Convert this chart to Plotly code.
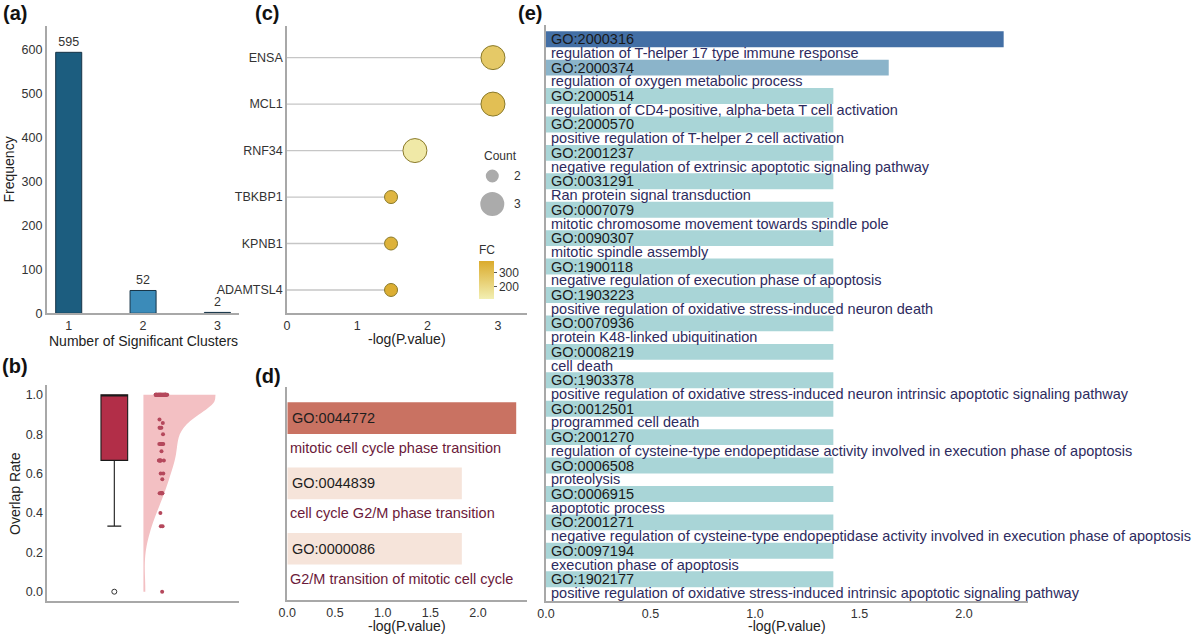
import plotly.graph_objects as go

FONT = "Liberation Sans, Arial, sans-serif"
W, H = 1200, 636

# ---------------- data ----------------
# (a)
clusters = [1, 2, 3]
frequency = [595, 52, 2]
a_colors = ["#1c5d7f", "#3b8bb9", "#23445c"]

# (b) overlap rates
overlap_values = ([1.0] * 36 + [0.875] + [0.857] + [0.833] * 3 + [0.8] + [0.75] * 6 +
                  [0.714] + [0.667] * 6 + [0.6] * 2 + [0.571] + [0.5] * 6 + [0.4] +
                  [0.333] * 2 + [0.0])

# (c) lollipop
genes = ["ADAMTSL4", "KPNB1", "TBKBP1", "RNF34", "MCL1", "ENSA"]
gene_logp = [1.48, 1.48, 1.48, 1.82, 2.93, 2.93]
gene_count = [2, 2, 2, 3, 3, 3]
gene_fc = [365, 350, 335, 140, 300, 262]

# (d)
d_ids = ["GO:0044772", "GO:0044839", "GO:0000086"]
d_terms = ["mitotic cell cycle phase transition",
           "cell cycle G2/M phase transition",
           "G2/M transition of mitotic cell cycle"]
d_logp = [2.40, 1.83, 1.83]

# (e)
e_ids = ["GO:2000316", "GO:2000374", "GO:2000514", "GO:2000570", "GO:2001237",
         "GO:0031291", "GO:0007079", "GO:0090307", "GO:1900118", "GO:1903223",
         "GO:0070936", "GO:0008219", "GO:1903378", "GO:0012501", "GO:2001270",
         "GO:0006508", "GO:0006915", "GO:2001271", "GO:0097194", "GO:1902177"]
e_terms = ["regulation of T-helper 17 type immune response",
           "regulation of oxygen metabolic process",
           "regulation of CD4-positive, alpha-beta T cell activation",
           "positive regulation of T-helper 2 cell activation",
           "negative regulation of extrinsic apoptotic signaling pathway",
           "Ran protein signal transduction",
           "mitotic chromosome movement towards spindle pole",
           "mitotic spindle assembly",
           "negative regulation of execution phase of apoptosis",
           "positive regulation of oxidative stress-induced neuron death",
           "protein K48-linked ubiquitination",
           "cell death",
           "positive regulation of oxidative stress-induced neuron intrinsic apoptotic signaling pathway",
           "programmed cell death",
           "regulation of cysteine-type endopeptidase activity involved in execution phase of apoptosis",
           "proteolysis",
           "apoptotic process",
           "negative regulation of cysteine-type endopeptidase activity involved in execution phase of apoptosis",
           "execution phase of apoptosis",
           "positive regulation of oxidative stress-induced intrinsic apoptotic signaling pathway"]
e_logp = [2.19, 1.64] + [1.375] * 18


def px_x(p):
    return p / W


def px_y(p):
    return 1 - p / H


fig = go.Figure()

# ---------------- (a) ----------------
fig.add_trace(go.Bar(
    x=clusters, y=frequency, width=0.35, xaxis="x", yaxis="y",
    marker=dict(color=a_colors, line=dict(color="#173447", width=1)),
    text=frequency, textposition="outside", cliponaxis=False,
    textfont=dict(size=12.5, color="#333", family=FONT), showlegend=False, hoverinfo="skip"))

# ---------------- (b) ----------------
fig.add_trace(go.Violin(
    y=overlap_values, x0=1.09, side="positive", width=5.4, xaxis="x2", yaxis="y2",
    points=False, spanmode="hard", bandwidth=0.1, fillcolor="#f3c0c3",
    line=dict(width=0, color="#f3c0c3"), opacity=1, showlegend=False,
    box=dict(visible=False), meanline=dict(visible=False), hoverinfo="skip"))
fig.add_trace(go.Box(
    y=overlap_values, x0=0, width=1, xaxis="x2", yaxis="y2",
    boxpoints="outliers", fillcolor="#b22e48", line=dict(color="#1a1a1a", width=1.1),
    whiskerwidth=0.52, marker=dict(symbol="circle-open", color="#333", size=5,
                                   line=dict(width=1)),
    showlegend=False, hoverinfo="skip"))
fig.add_trace(go.Box(
    y=overlap_values, x0=1.77, width=0.45, xaxis="x2", yaxis="y2",
    boxpoints="all", jitter=1, pointpos=0,
    fillcolor="rgba(0,0,0,0)", line=dict(color="rgba(0,0,0,0)", width=0),
    marker=dict(color="#b5485c", size=4), showlegend=False, hoverinfo="skip"))

# ---------------- (c) ----------------
gy = list(range(len(genes)))
stem_x, stem_y = [], []
for i, v in enumerate(gene_logp):
    stem_x += [0, v, None]
    stem_y += [gy[i], gy[i], None]
fig.add_trace(go.Scatter(x=stem_x, y=stem_y, mode="lines", xaxis="x3", yaxis="y3",
                         line=dict(color="#c6c6c6", width=1.3), showlegend=False,
                         hoverinfo="skip"))
fig.add_trace(go.Scatter(
    x=gene_logp, y=gy, mode="markers", xaxis="x3", yaxis="y3", showlegend=False,
    marker=dict(size=[11 * c - 9 for c in gene_count], color=gene_fc,
                colorscale=[[0, "#f2efb2"], [1, "#dbab2c"]], cmin=118, cmax=377,
                line=dict(color="#8a7a2a", width=1), opacity=1,
                colorbar=dict(x=px_x(479), xanchor="left", y=px_y(242), yanchor="top",
                              len=57 / H, lenmode="fraction", thickness=15,
                              xpad=0, ypad=0, outlinewidth=0,
                              tickvals=[200, 300], ticks="outside", ticklen=3,
                              tickcolor="#555",
                              tickfont=dict(size=12, color="#333", family=FONT),
                              title=dict(text="FC", side="top",
                                         font=dict(size=12, color="#333", family=FONT)))),
    hoverinfo="skip"))

# ---------------- (d) ----------------
dy = [len(d_ids) - 1 - i for i in range(len(d_ids))]
fig.add_trace(go.Bar(
    x=d_logp, y=dy, orientation="h", width=0.485, xaxis="x4", yaxis="y4",
    marker=dict(color=d_logp, colorscale=[[0, "#f6e4da"], [1, "#c97262"]],
                cmin=min(d_logp), cmax=max(d_logp), line=dict(width=0)),
    showlegend=False, hoverinfo="skip"))

# ---------------- (e) ----------------
ey = [len(e_ids) - 1 - i for i in range(len(e_ids))]
fig.add_trace(go.Bar(
    x=e_logp, y=ey, orientation="h", width=0.56, xaxis="x5", yaxis="y5",
    marker=dict(color=e_logp, colorscale=[[0, "#a9d5d7"], [0.32, "#8cb5ca"], [1, "#436fa5"]],
                cmin=min(e_logp), cmax=max(e_logp), line=dict(width=0)),
    showlegend=False, hoverinfo="skip"))

annotations = []
for i, (gid, term) in enumerate(zip(d_ids, d_terms)):
    annotations.append(dict(x=0, y=dy[i], xref="x4", yref="y4", text=gid, showarrow=False,
                            xanchor="left", yanchor="middle", xshift=3,
                            font=dict(size=14.5, color="#1e1e1e", family=FONT)))
    annotations.append(dict(x=0, y=dy[i] - 0.46, xref="x4", yref="y4", text=term,
                            showarrow=False, xanchor="left", yanchor="middle", xshift=1,
                            font=dict(size=14.5, color="#6b1a3a", family=FONT)))
for i, (gid, term) in enumerate(zip(e_ids, e_terms)):
    annotations.append(dict(x=0, y=ey[i], xref="x5", yref="y5", text=gid, showarrow=False,
                            xanchor="left", yanchor="middle", xshift=3,
                            font=dict(size=14.5, color="#1a1a1a", family=FONT)))
    annotations.append(dict(x=0, y=ey[i] - 0.486, xref="x5", yref="y5", text=term,
                            showarrow=False, xanchor="left", yanchor="middle", xshift=3,
                            font=dict(size=14.5, color="#2d2b5e", family=FONT)))

# panel labels
for lab, cx, cy in [("(a)", 15, 13), ("(b)", 15, 366), ("(c)", 267, 13),
                    ("(d)", 268, 376), ("(e)", 529.5, 13)]:
    annotations.append(dict(x=px_x(cx), y=px_y(cy), xref="paper", yref="paper", text=f"<b>{lab}</b>",
                            showarrow=False, xanchor="center", yanchor="middle",
                            font=dict(size=20, color="#111", family=FONT)))

# axis titles
for txt, cx, cy, ang in [("Frequency", 8.5, 170, -90),
                         ("Number of Significant Clusters", 143, 341, 0),
                         ("Overlap Rate", 15, 494, -90),
                         ("-log(P.value)", 407, 339, 0),
                         ("-log(P.value)", 407, 626, 0),
                         ("-log(P.value)", 787, 626, 0)]:
    annotations.append(dict(x=px_x(cx), y=px_y(cy), xref="paper", yref="paper", text=txt,
                            showarrow=False, xanchor="center", yanchor="middle", textangle=ang,
                            font=dict(size=14, color="#222", family=FONT)))

# Count legend
annotations.append(dict(x=px_x(500.7), y=px_y(156), xref="paper", yref="paper", text="Count",
                        showarrow=False, xanchor="center", yanchor="middle",
                        font=dict(size=12, color="#333", family=FONT)))
legend_counts = [2, 3]
shapes = []
for c, cy in zip(legend_counts, [176, 204]):
    r = (11 * c - 9) / 2
    shapes.append(dict(type="circle", xref="paper", yref="paper",
                       x0=px_x(492.3 - r), x1=px_x(492.3 + r), y0=px_y(cy + r), y1=px_y(cy - r),
                       fillcolor="#ababab", line=dict(width=0)))
    annotations.append(dict(x=px_x(517), y=px_y(cy), xref="paper", yref="paper", text=str(c),
                            showarrow=False, xanchor="center", yanchor="middle",
                            font=dict(size=12, color="#333", family=FONT)))

axis_common = dict(showgrid=False, zeroline=False, showline=True, linecolor="#a8a8a8",
                   linewidth=1.5, ticks="", autorange=False, fixedrange=True, automargin=False,
                   tickfont=dict(size=12.5, color="#333", family=FONT))

fig.update_layout(
    template="none",
    width=W, height=H, margin=dict(l=0, r=0, t=0, b=0, pad=0), autosize=False,
    paper_bgcolor="white", plot_bgcolor="white",
    font=dict(family=FONT, color="#333"),
    boxmode="overlay", violinmode="overlay", barmode="overlay",
    xaxis=dict(domain=[px_x(46.7), px_x(239)], range=[0.704, 3.29], anchor="y",
               tickvals=clusters, **axis_common),
    yaxis=dict(domain=[px_y(313.3), px_y(26)], range=[0, 655], anchor="x",
               tickvals=[0, 100, 200, 300, 400, 500, 600], **axis_common),
    xaxis2=dict(domain=[px_x(47.3), px_x(239)], range=[-2.51, 4.67], anchor="y2",
                showticklabels=False, **axis_common),
    yaxis2=dict(domain=[px_y(600.7), px_y(385)], range=[-0.0457, 1.05], anchor="x2",
                tickvals=[0, 0.2, 0.4, 0.6, 0.8, 1.0], tickformat=".1f", **axis_common),
    xaxis3=dict(domain=[px_x(287), px_x(526.7)], range=[0, 3.41], anchor="y3",
                tickvals=[0, 1, 2, 3], **axis_common),
    yaxis3=dict(domain=[px_y(313), px_y(26)], range=[-0.495, 5.68], anchor="x3",
                tickvals=gy, ticktext=genes, **axis_common),
    xaxis4=dict(domain=[px_x(287.3), px_x(526.7)], range=[0, 2.51], anchor="y4",
                tickvals=[0, 0.5, 1.0, 1.5, 2.0], tickformat=".1f", **axis_common),
    yaxis4=dict(domain=[px_y(600), px_y(386.7)], range=[-0.784, 2.48], anchor="x4",
                showticklabels=False, **axis_common),
    xaxis5=dict(domain=[px_x(546), px_x(1027.7)], range=[0, 2.305], anchor="y5",
                tickvals=[0, 0.5, 1.0, 1.5, 2.0], tickformat=".1f", **axis_common),
    yaxis5=dict(domain=[px_y(601), px_y(25)], range=[-0.767, 19.5], anchor="x5",
                showticklabels=False, **axis_common),
    annotations=annotations, shapes=shapes,
)

fig.write_html("out.html", config={"displayModeBar": False},
               post_script="document.body.style.margin='0';document.body.style.overflow='hidden';")
